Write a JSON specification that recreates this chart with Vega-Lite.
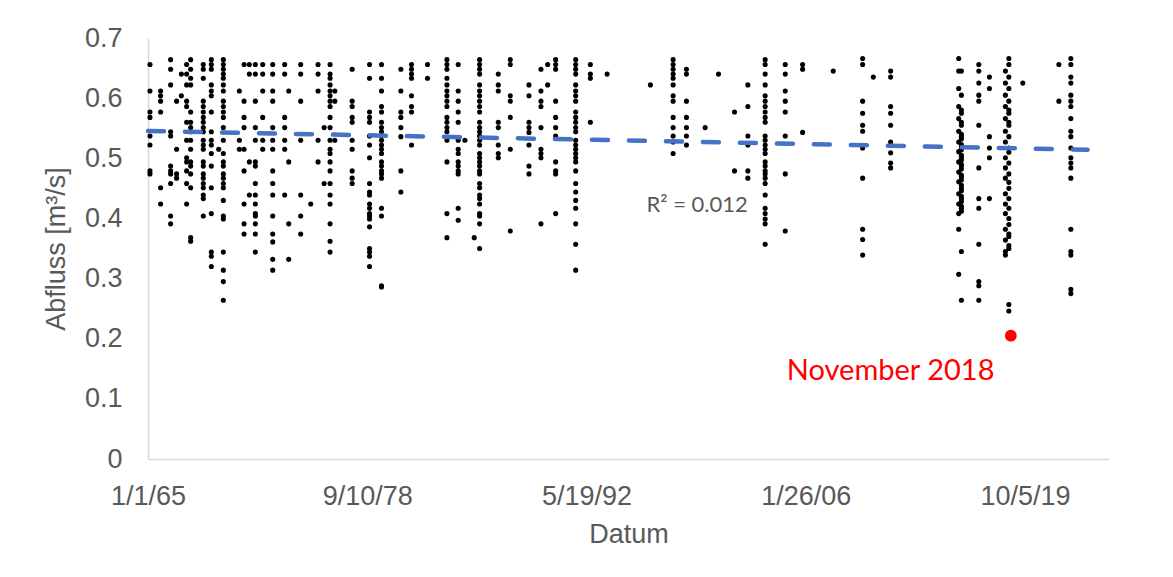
{
"$schema": "https://vega.github.io/schema/vega-lite/v6.json",
"width": 961, "height": 421,
"autosize": {"type": "none"},
"padding": {"left": 148, "top": 38, "right": 64, "bottom": 118},
"background": "white",
"config": {"view": {"stroke": null}, "font": "Liberation Sans",
  "axis": {"labelFont": "Liberation Sans", "labelFontSize": 27, "labelColor": "#595959", "titleFont": "Liberation Sans", "titleFontSize": 27, "titleFontWeight": "normal", "titleColor": "#595959", "ticks": false, "tickSize": 0, "grid": false, "domainColor": "#d9d9d9", "domainWidth": 1.5}},
"datasets": {
"pts": [
{"date":"1965-02-15","q":0.656},{"date":"1965-02-15","q":0.612},{"date":"1965-02-15","q":0.577},{"date":"1965-02-15","q":0.568},{"date":"1965-02-15","q":0.537},{"date":"1965-02-15","q":0.522},{"date":"1965-02-15","q":0.479},{"date":"1965-02-15","q":0.474},
{"date":"1965-10-15","q":0.612},{"date":"1965-10-15","q":0.604},{"date":"1965-10-15","q":0.595},{"date":"1965-10-15","q":0.577},{"date":"1965-10-15","q":0.451},{"date":"1965-10-15","q":0.424},
{"date":"1966-06-01","q":0.664},{"date":"1966-06-01","q":0.648},{"date":"1966-06-01","q":0.622},{"date":"1966-06-01","q":0.544},{"date":"1966-06-01","q":0.537},{"date":"1966-06-01","q":0.487},{"date":"1966-06-01","q":0.479},{"date":"1966-06-01","q":0.474},{"date":"1966-06-01","q":0.458},{"date":"1966-06-01","q":0.404},{"date":"1966-06-01","q":0.391},
{"date":"1966-10-15","q":0.595},{"date":"1966-10-15","q":0.515},{"date":"1966-10-15","q":0.474},{"date":"1966-10-15","q":0.467},
{"date":"1967-02-01","q":0.640},{"date":"1967-02-01","q":0.604},
{"date":"1967-06-01","q":0.656},{"date":"1967-06-01","q":0.640},{"date":"1967-06-01","q":0.622},{"date":"1967-06-01","q":0.595},{"date":"1967-06-01","q":0.586},{"date":"1967-06-01","q":0.560},{"date":"1967-06-01","q":0.530},{"date":"1967-06-01","q":0.501},{"date":"1967-06-01","q":0.494},{"date":"1967-06-01","q":0.479},{"date":"1967-06-01","q":0.458},{"date":"1967-06-01","q":0.424},
{"date":"1967-09-01","q":0.664},{"date":"1967-09-01","q":0.648},{"date":"1967-09-01","q":0.633},{"date":"1967-09-01","q":0.622},{"date":"1967-09-01","q":0.577},{"date":"1967-09-01","q":0.560},{"date":"1967-09-01","q":0.551},{"date":"1967-09-01","q":0.544},{"date":"1967-09-01","q":0.530},{"date":"1967-09-01","q":0.515},{"date":"1967-09-01","q":0.494},{"date":"1967-09-01","q":0.487},{"date":"1967-09-01","q":0.474},{"date":"1967-09-01","q":0.451},{"date":"1967-09-01","q":0.368},{"date":"1967-09-01","q":0.362},
{"date":"1968-06-15","q":0.656},{"date":"1968-06-15","q":0.648},{"date":"1968-06-15","q":0.633},{"date":"1968-06-15","q":0.595},{"date":"1968-06-15","q":0.586},{"date":"1968-06-15","q":0.577},{"date":"1968-06-15","q":0.568},{"date":"1968-06-15","q":0.560},{"date":"1968-06-15","q":0.551},{"date":"1968-06-15","q":0.544},{"date":"1968-06-15","q":0.530},{"date":"1968-06-15","q":0.522},{"date":"1968-06-15","q":0.515},{"date":"1968-06-15","q":0.494},{"date":"1968-06-15","q":0.487},{"date":"1968-06-15","q":0.474},{"date":"1968-06-15","q":0.467},{"date":"1968-06-15","q":0.458},{"date":"1968-06-15","q":0.451},{"date":"1968-06-15","q":0.439},{"date":"1968-06-15","q":0.433},{"date":"1968-06-15","q":0.404},
{"date":"1968-12-15","q":0.664},{"date":"1968-12-15","q":0.656},{"date":"1968-12-15","q":0.648},{"date":"1968-12-15","q":0.622},{"date":"1968-12-15","q":0.612},{"date":"1968-12-15","q":0.604},{"date":"1968-12-15","q":0.577},{"date":"1968-12-15","q":0.544},{"date":"1968-12-15","q":0.530},{"date":"1968-12-15","q":0.522},{"date":"1968-12-15","q":0.508},{"date":"1968-12-15","q":0.487},{"date":"1968-12-15","q":0.451},{"date":"1968-12-15","q":0.408},{"date":"1968-12-15","q":0.344},{"date":"1968-12-15","q":0.337},{"date":"1968-12-15","q":0.320},
{"date":"1969-06-01","q":0.515},
{"date":"1969-09-15","q":0.664},{"date":"1969-09-15","q":0.656},{"date":"1969-09-15","q":0.648},{"date":"1969-09-15","q":0.640},{"date":"1969-09-15","q":0.633},{"date":"1969-09-15","q":0.622},{"date":"1969-09-15","q":0.612},{"date":"1969-09-15","q":0.595},{"date":"1969-09-15","q":0.586},{"date":"1969-09-15","q":0.577},{"date":"1969-09-15","q":0.568},{"date":"1969-09-15","q":0.551},{"date":"1969-09-15","q":0.530},{"date":"1969-09-15","q":0.508},{"date":"1969-09-15","q":0.494},{"date":"1969-09-15","q":0.487},{"date":"1969-09-15","q":0.474},{"date":"1969-09-15","q":0.467},{"date":"1969-09-15","q":0.458},{"date":"1969-09-15","q":0.451},{"date":"1969-09-15","q":0.430},{"date":"1969-09-15","q":0.404},{"date":"1969-09-15","q":0.399},{"date":"1969-09-15","q":0.344},{"date":"1969-09-15","q":0.314},{"date":"1969-09-15","q":0.295},{"date":"1969-09-15","q":0.264},
{"date":"1970-09-15","q":0.612},{"date":"1970-09-15","q":0.530},{"date":"1970-09-15","q":0.515},
{"date":"1971-01-01","q":0.656},{"date":"1971-01-01","q":0.595},{"date":"1971-01-01","q":0.568},{"date":"1971-01-01","q":0.551},{"date":"1971-01-01","q":0.515},{"date":"1971-01-01","q":0.479},{"date":"1971-01-01","q":0.424},{"date":"1971-01-01","q":0.391},{"date":"1971-01-01","q":0.374},
{"date":"1971-05-01","q":0.656},{"date":"1971-05-01","q":0.640},{"date":"1971-05-01","q":0.494},{"date":"1971-05-01","q":0.439},
{"date":"1971-09-15","q":0.656},{"date":"1971-09-15","q":0.640},{"date":"1971-09-15","q":0.595},{"date":"1971-09-15","q":0.551},{"date":"1971-09-15","q":0.530},{"date":"1971-09-15","q":0.494},{"date":"1971-09-15","q":0.487},{"date":"1971-09-15","q":0.458},{"date":"1971-09-15","q":0.439},{"date":"1971-09-15","q":0.424},{"date":"1971-09-15","q":0.408},{"date":"1971-09-15","q":0.404},{"date":"1971-09-15","q":0.391},{"date":"1971-09-15","q":0.374},{"date":"1971-09-15","q":0.344},
{"date":"1972-03-01","q":0.656},{"date":"1972-03-01","q":0.640},{"date":"1972-03-01","q":0.612},{"date":"1972-03-01","q":0.568},{"date":"1972-03-01","q":0.530},{"date":"1972-03-01","q":0.515},
{"date":"1972-10-15","q":0.656},{"date":"1972-10-15","q":0.640},{"date":"1972-10-15","q":0.612},{"date":"1972-10-15","q":0.595},{"date":"1972-10-15","q":0.551},{"date":"1972-10-15","q":0.530},{"date":"1972-10-15","q":0.515},{"date":"1972-10-15","q":0.479},{"date":"1972-10-15","q":0.458},{"date":"1972-10-15","q":0.439},{"date":"1972-10-15","q":0.404},{"date":"1972-10-15","q":0.374},{"date":"1972-10-15","q":0.361},{"date":"1972-10-15","q":0.332},{"date":"1972-10-15","q":0.314},
{"date":"1973-07-15","q":0.656},{"date":"1973-07-15","q":0.640},{"date":"1973-07-15","q":0.568},{"date":"1973-07-15","q":0.551},{"date":"1973-07-15","q":0.530},{"date":"1973-07-15","q":0.515},{"date":"1973-07-15","q":0.439},
{"date":"1973-10-15","q":0.612},{"date":"1973-10-15","q":0.494},{"date":"1973-10-15","q":0.391},{"date":"1973-10-15","q":0.332},
{"date":"1974-07-15","q":0.656},{"date":"1974-07-15","q":0.640},{"date":"1974-07-15","q":0.595},{"date":"1974-07-15","q":0.530},{"date":"1974-07-15","q":0.439},{"date":"1974-07-15","q":0.404},{"date":"1974-07-15","q":0.374},
{"date":"1975-03-01","q":0.424},
{"date":"1975-08-15","q":0.656},{"date":"1975-08-15","q":0.640},{"date":"1975-08-15","q":0.612},{"date":"1975-08-15","q":0.530},{"date":"1975-08-15","q":0.494},
{"date":"1976-01-01","q":0.551},{"date":"1976-01-01","q":0.458},
{"date":"1976-05-15","q":0.656},{"date":"1976-05-15","q":0.640},{"date":"1976-05-15","q":0.633},{"date":"1976-05-15","q":0.622},{"date":"1976-05-15","q":0.612},{"date":"1976-05-15","q":0.604},{"date":"1976-05-15","q":0.595},{"date":"1976-05-15","q":0.586},{"date":"1976-05-15","q":0.568},{"date":"1976-05-15","q":0.551},{"date":"1976-05-15","q":0.530},{"date":"1976-05-15","q":0.515},{"date":"1976-05-15","q":0.508},{"date":"1976-05-15","q":0.494},{"date":"1976-05-15","q":0.479},{"date":"1976-05-15","q":0.458},{"date":"1976-05-15","q":0.439},{"date":"1976-05-15","q":0.424},{"date":"1976-05-15","q":0.391},{"date":"1976-05-15","q":0.362},{"date":"1976-05-15","q":0.344},
{"date":"1976-09-01","q":0.612},{"date":"1976-09-01","q":0.595},{"date":"1976-09-01","q":0.530},
{"date":"1977-10-01","q":0.648},{"date":"1977-10-01","q":0.595},{"date":"1977-10-01","q":0.586},{"date":"1977-10-01","q":0.568},{"date":"1977-10-01","q":0.560},{"date":"1977-10-01","q":0.530},{"date":"1977-10-01","q":0.515},{"date":"1977-10-01","q":0.479},{"date":"1977-10-01","q":0.467},{"date":"1977-10-01","q":0.458},
{"date":"1978-11-01","q":0.656},{"date":"1978-11-01","q":0.633},{"date":"1978-11-01","q":0.577},{"date":"1978-11-01","q":0.568},{"date":"1978-11-01","q":0.560},{"date":"1978-11-01","q":0.537},{"date":"1978-11-01","q":0.522},{"date":"1978-11-01","q":0.501},{"date":"1978-11-01","q":0.458},{"date":"1978-11-01","q":0.444},{"date":"1978-11-01","q":0.439},{"date":"1978-11-01","q":0.424},{"date":"1978-11-01","q":0.417},{"date":"1978-11-01","q":0.408},{"date":"1978-11-01","q":0.404},{"date":"1978-11-01","q":0.399},{"date":"1978-11-01","q":0.386},{"date":"1978-11-01","q":0.350},{"date":"1978-11-01","q":0.344},{"date":"1978-11-01","q":0.337},{"date":"1978-11-01","q":0.320},
{"date":"1979-08-01","q":0.656},{"date":"1979-08-01","q":0.633},{"date":"1979-08-01","q":0.612},{"date":"1979-08-01","q":0.586},{"date":"1979-08-01","q":0.577},{"date":"1979-08-01","q":0.560},{"date":"1979-08-01","q":0.551},{"date":"1979-08-01","q":0.544},{"date":"1979-08-01","q":0.537},{"date":"1979-08-01","q":0.530},{"date":"1979-08-01","q":0.522},{"date":"1979-08-01","q":0.515},{"date":"1979-08-01","q":0.508},{"date":"1979-08-01","q":0.494},{"date":"1979-08-01","q":0.487},{"date":"1979-08-01","q":0.479},{"date":"1979-08-01","q":0.474},{"date":"1979-08-01","q":0.467},{"date":"1979-08-01","q":0.417},{"date":"1979-08-01","q":0.404},{"date":"1979-08-01","q":0.288},{"date":"1979-08-01","q":0.286},
{"date":"1980-10-15","q":0.648},{"date":"1980-10-15","q":0.612},{"date":"1980-10-15","q":0.577},{"date":"1980-10-15","q":0.568},{"date":"1980-10-15","q":0.551},{"date":"1980-10-15","q":0.536},{"date":"1980-10-15","q":0.479},{"date":"1980-10-15","q":0.444},
{"date":"1981-06-15","q":0.656},{"date":"1981-06-15","q":0.648},{"date":"1981-06-15","q":0.640},{"date":"1981-06-15","q":0.633},{"date":"1981-06-15","q":0.604},{"date":"1981-06-15","q":0.586},{"date":"1981-06-15","q":0.577},{"date":"1981-06-15","q":0.522},
{"date":"1982-06-15","q":0.656},{"date":"1982-06-15","q":0.633},
{"date":"1983-09-01","q":0.664},{"date":"1983-09-01","q":0.656},{"date":"1983-09-01","q":0.648},{"date":"1983-09-01","q":0.633},{"date":"1983-09-01","q":0.622},{"date":"1983-09-01","q":0.612},{"date":"1983-09-01","q":0.604},{"date":"1983-09-01","q":0.595},{"date":"1983-09-01","q":0.586},{"date":"1983-09-01","q":0.568},{"date":"1983-09-01","q":0.560},{"date":"1983-09-01","q":0.551},{"date":"1983-09-01","q":0.544},{"date":"1983-09-01","q":0.530},{"date":"1983-09-01","q":0.494},{"date":"1983-09-01","q":0.408},{"date":"1983-09-01","q":0.368},
{"date":"1984-05-15","q":0.656},{"date":"1984-05-15","q":0.612},{"date":"1984-05-15","q":0.595},{"date":"1984-05-15","q":0.577},{"date":"1984-05-15","q":0.560},{"date":"1984-05-15","q":0.530},{"date":"1984-05-15","q":0.515},{"date":"1984-05-15","q":0.508},{"date":"1984-05-15","q":0.494},{"date":"1984-05-15","q":0.487},{"date":"1984-05-15","q":0.479},{"date":"1984-05-15","q":0.474},{"date":"1984-05-15","q":0.417},{"date":"1984-05-15","q":0.397},
{"date":"1984-10-15","q":0.530},
{"date":"1985-05-15","q":0.368},
{"date":"1985-09-15","q":0.664},{"date":"1985-09-15","q":0.656},{"date":"1985-09-15","q":0.648},{"date":"1985-09-15","q":0.640},{"date":"1985-09-15","q":0.622},{"date":"1985-09-15","q":0.612},{"date":"1985-09-15","q":0.604},{"date":"1985-09-15","q":0.595},{"date":"1985-09-15","q":0.586},{"date":"1985-09-15","q":0.577},{"date":"1985-09-15","q":0.560},{"date":"1985-09-15","q":0.551},{"date":"1985-09-15","q":0.544},{"date":"1985-09-15","q":0.537},{"date":"1985-09-15","q":0.530},{"date":"1985-09-15","q":0.522},{"date":"1985-09-15","q":0.508},{"date":"1985-09-15","q":0.501},{"date":"1985-09-15","q":0.494},{"date":"1985-09-15","q":0.487},{"date":"1985-09-15","q":0.479},{"date":"1985-09-15","q":0.474},{"date":"1985-09-15","q":0.458},{"date":"1985-09-15","q":0.451},{"date":"1985-09-15","q":0.439},{"date":"1985-09-15","q":0.433},{"date":"1985-09-15","q":0.424},{"date":"1985-09-15","q":0.408},{"date":"1985-09-15","q":0.404},{"date":"1985-09-15","q":0.391},{"date":"1985-09-15","q":0.350},
{"date":"1986-11-15","q":0.640},{"date":"1986-11-15","q":0.622},{"date":"1986-11-15","q":0.612},{"date":"1986-11-15","q":0.560},{"date":"1986-11-15","q":0.551},{"date":"1986-11-15","q":0.522},{"date":"1986-11-15","q":0.508},{"date":"1986-11-15","q":0.501},
{"date":"1987-08-15","q":0.664},{"date":"1987-08-15","q":0.656},{"date":"1987-08-15","q":0.604},{"date":"1987-08-15","q":0.595},{"date":"1987-08-15","q":0.568},{"date":"1987-08-15","q":0.515},{"date":"1987-08-15","q":0.379},
{"date":"1988-10-15","q":0.622},{"date":"1988-10-15","q":0.604},{"date":"1988-10-15","q":0.560},{"date":"1988-10-15","q":0.551},{"date":"1988-10-15","q":0.543},{"date":"1988-10-15","q":0.522},{"date":"1988-10-15","q":0.487},{"date":"1988-10-15","q":0.474},
{"date":"1989-07-15","q":0.648},{"date":"1989-07-15","q":0.612},{"date":"1989-07-15","q":0.595},{"date":"1989-07-15","q":0.586},{"date":"1989-07-15","q":0.551},{"date":"1989-07-15","q":0.515},{"date":"1989-07-15","q":0.508},{"date":"1989-07-15","q":0.501},{"date":"1989-07-15","q":0.391},
{"date":"1989-12-15","q":0.656},{"date":"1989-12-15","q":0.622},
{"date":"1990-06-15","q":0.664},{"date":"1990-06-15","q":0.656},{"date":"1990-06-15","q":0.648},{"date":"1990-06-15","q":0.595},{"date":"1990-06-15","q":0.568},{"date":"1990-06-15","q":0.551},{"date":"1990-06-15","q":0.537},{"date":"1990-06-15","q":0.494},{"date":"1990-06-15","q":0.479},{"date":"1990-06-15","q":0.474},{"date":"1990-06-15","q":0.408},
{"date":"1991-09-15","q":0.664},{"date":"1991-09-15","q":0.656},{"date":"1991-09-15","q":0.648},{"date":"1991-09-15","q":0.640},{"date":"1991-09-15","q":0.622},{"date":"1991-09-15","q":0.612},{"date":"1991-09-15","q":0.604},{"date":"1991-09-15","q":0.595},{"date":"1991-09-15","q":0.577},{"date":"1991-09-15","q":0.568},{"date":"1991-09-15","q":0.560},{"date":"1991-09-15","q":0.551},{"date":"1991-09-15","q":0.544},{"date":"1991-09-15","q":0.530},{"date":"1991-09-15","q":0.522},{"date":"1991-09-15","q":0.515},{"date":"1991-09-15","q":0.508},{"date":"1991-09-15","q":0.501},{"date":"1991-09-15","q":0.494},{"date":"1991-09-15","q":0.479},{"date":"1991-09-15","q":0.458},{"date":"1991-09-15","q":0.444},{"date":"1991-09-15","q":0.430},{"date":"1991-09-15","q":0.417},{"date":"1991-09-15","q":0.391},{"date":"1991-09-15","q":0.357},{"date":"1991-09-15","q":0.314},
{"date":"1992-08-15","q":0.656},{"date":"1992-08-15","q":0.640},{"date":"1992-08-15","q":0.633},{"date":"1992-08-15","q":0.560},
{"date":"1993-09-01","q":0.640},
{"date":"1996-05-15","q":0.622},
{"date":"1997-10-15","q":0.664},{"date":"1997-10-15","q":0.656},{"date":"1997-10-15","q":0.648},{"date":"1997-10-15","q":0.640},{"date":"1997-10-15","q":0.633},{"date":"1997-10-15","q":0.622},{"date":"1997-10-15","q":0.604},{"date":"1997-10-15","q":0.595},{"date":"1997-10-15","q":0.568},{"date":"1997-10-15","q":0.551},{"date":"1997-10-15","q":0.537},{"date":"1997-10-15","q":0.527},{"date":"1997-10-15","q":0.508},
{"date":"1998-08-15","q":0.648},{"date":"1998-08-15","q":0.640},{"date":"1998-08-15","q":0.595},{"date":"1998-08-15","q":0.568},{"date":"1998-08-15","q":0.551},{"date":"1998-08-15","q":0.537},{"date":"1998-08-15","q":0.522},
{"date":"1999-10-15","q":0.551},
{"date":"2000-08-15","q":0.640},
{"date":"2001-08-15","q":0.577},{"date":"2001-08-15","q":0.479},
{"date":"2002-06-15","q":0.622},{"date":"2002-06-15","q":0.586},{"date":"2002-06-15","q":0.537},{"date":"2002-06-15","q":0.522},{"date":"2002-06-15","q":0.479},{"date":"2002-06-15","q":0.467},
{"date":"2003-07-15","q":0.664},{"date":"2003-07-15","q":0.656},{"date":"2003-07-15","q":0.640},{"date":"2003-07-15","q":0.622},{"date":"2003-07-15","q":0.604},{"date":"2003-07-15","q":0.595},{"date":"2003-07-15","q":0.586},{"date":"2003-07-15","q":0.577},{"date":"2003-07-15","q":0.568},{"date":"2003-07-15","q":0.560},{"date":"2003-07-15","q":0.537},{"date":"2003-07-15","q":0.530},{"date":"2003-07-15","q":0.522},{"date":"2003-07-15","q":0.515},{"date":"2003-07-15","q":0.508},{"date":"2003-07-15","q":0.494},{"date":"2003-07-15","q":0.487},{"date":"2003-07-15","q":0.479},{"date":"2003-07-15","q":0.474},{"date":"2003-07-15","q":0.467},{"date":"2003-07-15","q":0.458},{"date":"2003-07-15","q":0.439},{"date":"2003-07-15","q":0.417},{"date":"2003-07-15","q":0.408},{"date":"2003-07-15","q":0.399},{"date":"2003-07-15","q":0.391},{"date":"2003-07-15","q":0.357},
{"date":"2004-10-15","q":0.656},{"date":"2004-10-15","q":0.640},{"date":"2004-10-15","q":0.612},{"date":"2004-10-15","q":0.595},{"date":"2004-10-15","q":0.577},{"date":"2004-10-15","q":0.537},{"date":"2004-10-15","q":0.474},{"date":"2004-10-15","q":0.379},
{"date":"2005-11-15","q":0.656},{"date":"2005-11-15","q":0.648},{"date":"2005-11-15","q":0.543},
{"date":"2007-10-15","q":0.645},
{"date":"2009-08-15","q":0.666},{"date":"2009-08-15","q":0.656},{"date":"2009-08-15","q":0.595},{"date":"2009-08-15","q":0.575},{"date":"2009-08-15","q":0.555},{"date":"2009-08-15","q":0.545},{"date":"2009-08-15","q":0.517},{"date":"2009-08-15","q":0.467},{"date":"2009-08-15","q":0.382},{"date":"2009-08-15","q":0.365},{"date":"2009-08-15","q":0.339},
{"date":"2010-04-15","q":0.635},
{"date":"2011-05-15","q":0.645},{"date":"2011-05-15","q":0.635},{"date":"2011-05-15","q":0.586},{"date":"2011-05-15","q":0.575},{"date":"2011-05-15","q":0.555},{"date":"2011-05-15","q":0.527},{"date":"2011-05-15","q":0.509},{"date":"2011-05-15","q":0.492},{"date":"2011-05-15","q":0.484},
{"date":"2015-08-15","q":0.666},{"date":"2015-08-15","q":0.645},{"date":"2015-08-15","q":0.616},{"date":"2015-08-15","q":0.586},{"date":"2015-08-15","q":0.566},{"date":"2015-08-15","q":0.545},{"date":"2015-08-15","q":0.527},{"date":"2015-08-15","q":0.511},{"date":"2015-08-15","q":0.494},{"date":"2015-08-15","q":0.477},{"date":"2015-08-15","q":0.461},{"date":"2015-08-15","q":0.441},{"date":"2015-08-15","q":0.424},{"date":"2015-08-15","q":0.408},{"date":"2015-08-15","q":0.382},{"date":"2015-08-15","q":0.307},
{"date":"2015-10-15","q":0.645},{"date":"2015-10-15","q":0.605},{"date":"2015-10-15","q":0.575},{"date":"2015-10-15","q":0.555},{"date":"2015-10-15","q":0.536},{"date":"2015-10-15","q":0.519},{"date":"2015-10-15","q":0.501},{"date":"2015-10-15","q":0.487},{"date":"2015-10-15","q":0.469},{"date":"2015-10-15","q":0.450},{"date":"2015-10-15","q":0.433},{"date":"2015-10-15","q":0.417},{"date":"2015-10-15","q":0.345},{"date":"2015-10-15","q":0.264},{"date":"2015-10-15","q":0.580},{"date":"2015-10-15","q":0.560},{"date":"2015-10-15","q":0.540},{"date":"2015-10-15","q":0.532},{"date":"2015-10-15","q":0.523},{"date":"2015-10-15","q":0.514},{"date":"2015-10-15","q":0.505},{"date":"2015-10-15","q":0.497},{"date":"2015-10-15","q":0.490},{"date":"2015-10-15","q":0.482},{"date":"2015-10-15","q":0.472},{"date":"2015-10-15","q":0.464},{"date":"2015-10-15","q":0.455},{"date":"2015-10-15","q":0.446},{"date":"2015-10-15","q":0.437},{"date":"2015-10-15","q":0.428},{"date":"2015-10-15","q":0.420},{"date":"2015-10-15","q":0.412},
{"date":"2016-11-15","q":0.656},{"date":"2016-11-15","q":0.645},{"date":"2016-11-15","q":0.625},{"date":"2016-11-15","q":0.605},{"date":"2016-11-15","q":0.595},{"date":"2016-11-15","q":0.555},{"date":"2016-11-15","q":0.484},{"date":"2016-11-15","q":0.433},{"date":"2016-11-15","q":0.417},{"date":"2016-11-15","q":0.357},{"date":"2016-11-15","q":0.295},{"date":"2016-11-15","q":0.288},{"date":"2016-11-15","q":0.264},
{"date":"2017-07-15","q":0.635},{"date":"2017-07-15","q":0.616},{"date":"2017-07-15","q":0.536},{"date":"2017-07-15","q":0.517},{"date":"2017-07-15","q":0.501},{"date":"2017-07-15","q":0.433},
{"date":"2018-07-15","q":0.645},{"date":"2018-07-15","q":0.625},{"date":"2018-07-15","q":0.605},{"date":"2018-07-15","q":0.586},{"date":"2018-07-15","q":0.566},{"date":"2018-07-15","q":0.545},{"date":"2018-07-15","q":0.527},{"date":"2018-07-15","q":0.501},{"date":"2018-07-15","q":0.484},{"date":"2018-07-15","q":0.467},{"date":"2018-07-15","q":0.441},{"date":"2018-07-15","q":0.424},{"date":"2018-07-15","q":0.408},{"date":"2018-07-15","q":0.382},{"date":"2018-07-15","q":0.364},{"date":"2018-07-15","q":0.345},{"date":"2018-07-15","q":0.339},
{"date":"2018-10-01","q":0.666},{"date":"2018-10-01","q":0.656},{"date":"2018-10-01","q":0.635},{"date":"2018-10-01","q":0.616},{"date":"2018-10-01","q":0.595},{"date":"2018-10-01","q":0.575},{"date":"2018-10-01","q":0.555},{"date":"2018-10-01","q":0.536},{"date":"2018-10-01","q":0.517},{"date":"2018-10-01","q":0.492},{"date":"2018-10-01","q":0.474},{"date":"2018-10-01","q":0.450},{"date":"2018-10-01","q":0.433},{"date":"2018-10-01","q":0.417},{"date":"2018-10-01","q":0.390},{"date":"2018-10-01","q":0.374},{"date":"2018-10-01","q":0.355},{"date":"2018-10-01","q":0.257},{"date":"2018-10-01","q":0.246},{"date":"2018-10-01","q":0.580},{"date":"2018-10-01","q":0.560},{"date":"2018-10-01","q":0.510},{"date":"2018-10-01","q":0.460},{"date":"2018-10-01","q":0.400},{"date":"2018-10-01","q":0.370},{"date":"2018-10-01","q":0.350},
{"date":"2019-08-15","q":0.625},
{"date":"2021-11-15","q":0.656},{"date":"2021-11-15","q":0.595},
{"date":"2022-08-15","q":0.666},{"date":"2022-08-15","q":0.656},{"date":"2022-08-15","q":0.635},{"date":"2022-08-15","q":0.625},{"date":"2022-08-15","q":0.605},{"date":"2022-08-15","q":0.595},{"date":"2022-08-15","q":0.586},{"date":"2022-08-15","q":0.566},{"date":"2022-08-15","q":0.545},{"date":"2022-08-15","q":0.536},{"date":"2022-08-15","q":0.517},{"date":"2022-08-15","q":0.501},{"date":"2022-08-15","q":0.492},{"date":"2022-08-15","q":0.484},{"date":"2022-08-15","q":0.467},{"date":"2022-08-15","q":0.382},{"date":"2022-08-15","q":0.345},{"date":"2022-08-15","q":0.339},{"date":"2022-08-15","q":0.282},{"date":"2022-08-15","q":0.275}
],
"trend": [{"date":"1965-01-01","q":0.5455},{"date":"2023-09-01","q":0.5143}],
"nov": [{"date":"2018-11-15","q":0.205}]
},
"layer": [
{"data": {"name": "pts"},
 "mark": {"type": "circle", "color": "#000000", "size": 26, "opacity": 1},
 "encoding": {
  "x": {"field": "date", "type": "temporal",
        "scale": {"type": "utc", "domain": [{"year":1965,"month":1,"date":1,"utc":true},{"year":2025,"month":1,"date":1,"utc":true}]},
        "axis": {"title": "Datum", "format": "%-m/%-d/%y", "labelPadding": 24, "titlePadding": 12, "labelFlush": false, "labelOverlap": false,
                 "values": [{"year":1965,"month":1,"date":1,"utc":true},{"year":1978,"month":9,"date":10,"utc":true},{"year":1992,"month":5,"date":19,"utc":true},{"year":2006,"month":1,"date":26,"utc":true},{"year":2019,"month":10,"date":5,"utc":true}]}},
  "y": {"field": "q", "type": "quantitative",
        "scale": {"domain": [0, 0.7], "nice": false, "zero": true},
        "axis": {"title": "Abfluss [m³/s]", "format": ".1~f", "values": [0,0.1,0.2,0.3,0.4,0.5,0.6,0.7], "labelPadding": 26, "titlePadding": 14, "labelFlush": false, "labelOverlap": false}}
 }},
{"data": {"name": "trend"},
 "mark": {"type": "line", "color": "#4472C4", "strokeWidth": 4.5, "strokeDash": [16, 21], "strokeCap": "round"},
 "encoding": {"x": {"field": "date", "type": "temporal"}, "y": {"field": "q", "type": "quantitative"}}},
{"data": {"name": "nov"},
 "mark": {"type": "circle", "color": "#FF0000", "size": 140, "opacity": 1},
 "encoding": {"x": {"field": "date", "type": "temporal"}, "y": {"field": "q", "type": "quantitative"}}},
{"data": {"values": [{"label": "R² = 0.012", "date": "1999-04-15", "q": 0.422}]},
 "mark": {"type": "text", "font": "Lato", "fontSize": 22, "color": "#595959", "align": "center", "baseline": "middle"},
 "encoding": {"x": {"field": "date", "type": "temporal"}, "y": {"field": "q", "type": "quantitative"}, "text": {"field": "label"}}},
{"data": {"values": [{"label": "November 2018", "date": "2011-05-15", "q": 0.146}]},
 "mark": {"type": "text", "font": "Lato", "fontSize": 29, "color": "#FF0000", "align": "center", "baseline": "middle"},
 "encoding": {"x": {"field": "date", "type": "temporal"}, "y": {"field": "q", "type": "quantitative"}, "text": {"field": "label"}}}
]
}
